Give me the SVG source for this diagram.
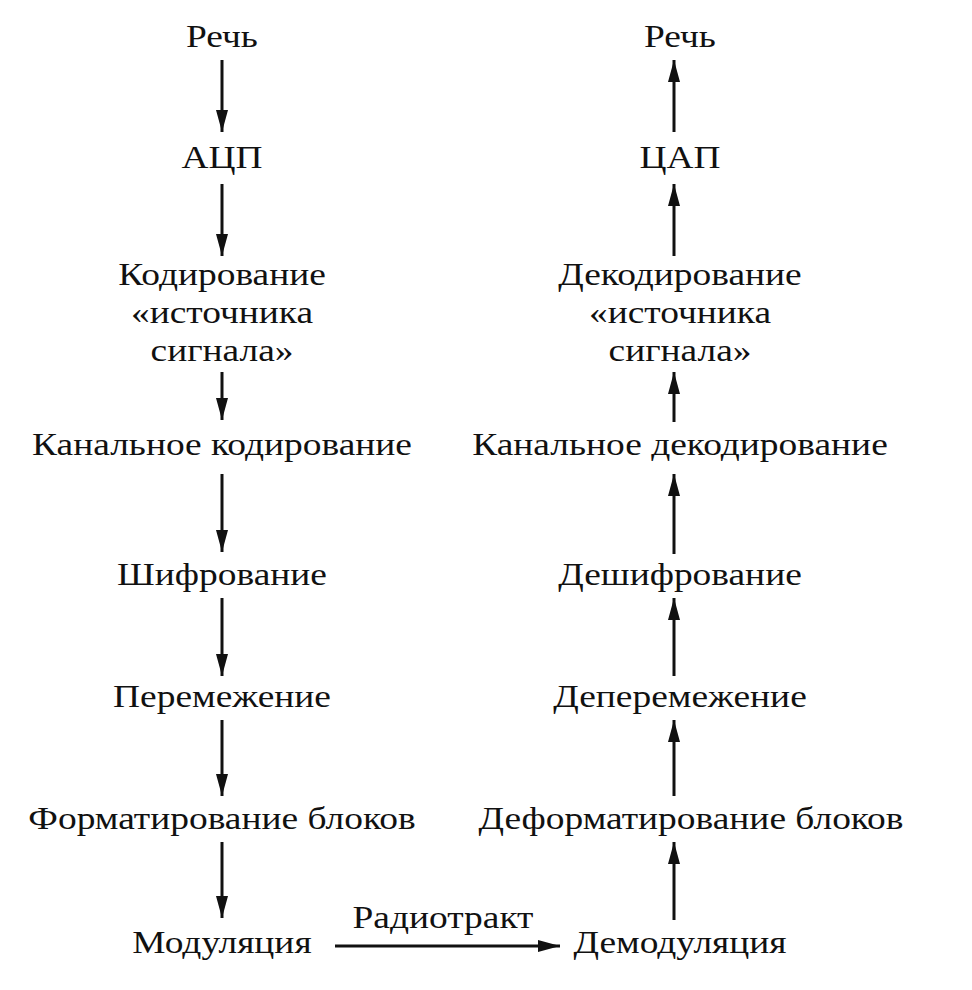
<svg xmlns="http://www.w3.org/2000/svg" width="972" height="990" viewBox="0 0 972 990">
<style>
text{font-family:"Liberation Serif","DejaVu Serif",serif;font-size:32px;fill:#111;text-anchor:middle}
.c line{stroke:#111;stroke-width:3}
</style>
<defs><marker id="a" viewBox="0 0 22 12" refX="22" refY="6" markerWidth="22" markerHeight="12" markerUnits="userSpaceOnUse" orient="auto"><path d="M0,0 L22,6 L0,12 Z" fill="#111"/></marker></defs>
<rect width="972" height="990" fill="#fff"/>
<g id="l1"><text transform="translate(222 47) scale(1.17 1)">Речь</text></g>
<g id="l2"><text transform="translate(222 168) scale(1.17 1)">АЦП</text></g>
<g id="l3"><text transform="translate(222 285) scale(1.17 1)">Кодирование</text><text transform="translate(222 323) scale(1.17 1)">«источника</text><text transform="translate(222 361) scale(1.17 1)">сигнала»</text></g>
<g id="l4"><text transform="translate(222 455) scale(1.17 1)">Канальное кодирование</text></g>
<g id="l5"><text transform="translate(222 585) scale(1.17 1)">Шифрование</text></g>
<g id="l6"><text transform="translate(222 707) scale(1.17 1)">Перемежение</text></g>
<g id="l7"><text transform="translate(222 829) scale(1.17 1)">Форматирование блоков</text></g>
<g id="l8"><text transform="translate(222 953) scale(1.17 1)">Модуляция</text></g>
<g id="r1"><text transform="translate(680 47) scale(1.17 1)">Речь</text></g>
<g id="r2"><text transform="translate(680 168) scale(1.17 1)">ЦАП</text></g>
<g id="r3"><text transform="translate(680 285) scale(1.17 1)">Декодирование</text><text transform="translate(680 323) scale(1.17 1)">«источника</text><text transform="translate(680 361) scale(1.17 1)">сигнала»</text></g>
<g id="r4"><text transform="translate(680 455) scale(1.17 1)">Канальное декодирование</text></g>
<g id="r5"><text transform="translate(680 585) scale(1.17 1)">Дешифрование</text></g>
<g id="r6"><text transform="translate(680 707) scale(1.17 1)">Деперемежение</text></g>
<g id="r7"><text transform="translate(691 829) scale(1.17 1)">Деформатирование блоков</text></g>
<g id="r8"><text transform="translate(680 953) scale(1.17 1)">Демодуляция</text></g>
<g class="c" id="connectors">
<line x1="222" y1="60" x2="222" y2="132" marker-end="url(#a)"/>
<line x1="222" y1="184" x2="222" y2="256" marker-end="url(#a)"/>
<line x1="222" y1="372" x2="222" y2="420" marker-end="url(#a)"/>
<line x1="222" y1="474" x2="222" y2="552" marker-end="url(#a)"/>
<line x1="222" y1="598" x2="222" y2="676" marker-end="url(#a)"/>
<line x1="222" y1="720" x2="222" y2="796" marker-end="url(#a)"/>
<line x1="222" y1="842" x2="222" y2="918" marker-end="url(#a)"/>
<line x1="674" y1="132" x2="674" y2="60" marker-end="url(#a)"/>
<line x1="674" y1="256" x2="674" y2="184" marker-end="url(#a)"/>
<line x1="674" y1="422" x2="674" y2="372" marker-end="url(#a)"/>
<line x1="674" y1="554" x2="674" y2="474" marker-end="url(#a)"/>
<line x1="674" y1="676" x2="674" y2="598" marker-end="url(#a)"/>
<line x1="674" y1="796" x2="674" y2="720" marker-end="url(#a)"/>
<line x1="674" y1="920" x2="674" y2="842" marker-end="url(#a)"/>
<line x1="335" y1="946" x2="560" y2="946" marker-end="url(#a)"/>
</g>
<text transform="translate(443 928) scale(1.17 1)">Радиотракт</text>
</svg>
